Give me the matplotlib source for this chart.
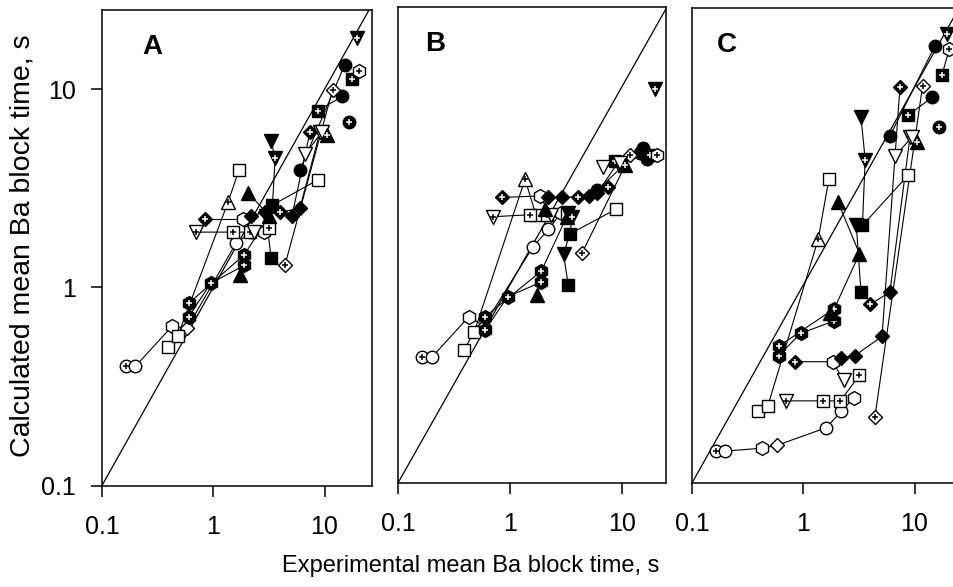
import matplotlib
matplotlib.use("Agg")
import matplotlib.pyplot as plt

plt.rcParams["font.family"] = ["Liberation Sans", "DejaVu Sans"]

# Experimental mean Ba block times (s), one list per connected group of points
exp_time = [
    [0.165, 0.2],
    [0.2, 0.43, 0.58, 1.6],
    [1.6, 2.2, 2.85],
    [0.39, 0.48, 1.36, 1.7],
    [0.7, 1.5, 2.15, 3.2],
    [0.84, 1.84, 2.3],
    [0.6, 0.95, 1.9],
    [0.6, 1.9, 3.2],
    [1.74, 1.9],
    [2.05, 3.2],
    [3.3, 3.6, 3.4, 3.0, 3.3],
    [2.2, 2.9, 5.1, 7.4],
    [4.0, 6.0, 9.1],
    [6.0, 15.2],
    [8.7, 14.5],
    [16.5],
    [19.7],
    [17.6, 20.5],
    [4.4, 11.8],
    [6.7, 9.5],
    [10.5],
    [3.4, 8.8],
]

# Symbol per point: shape (o h s D ^ v), o=open / f=filled, trailing "+" = cross inside
symbols = [
    ["oo+", "oo"],
    ["", "ho", "Do", "oo"],
    ["", "oo", "ho"],
    ["so", "so", "^o+", "so"],
    ["vo+", "so+", "so+", "so+"],
    ["Df+", "ho", "vo"],
    ["hf+", "hf+", "hf+"],
    ["hf+", "hf+", "^f"],
    ["^f", ""],
    ["^f", ""],
    ["vf", "vf+", "sf", "vf", "sf"],
    ["Df", "Df", "Df", "Df+"],
    ["Df+", "Df", "vo+"],
    ["of", "of"],
    ["sf+", "of"],
    ["of+"],
    ["vf+"],
    ["sf+", "ho+"],
    ["Do+", "Do+"],
    ["vo", "vo"],
    ["^f+"],
    ["", "so"],
]

# Calculated mean Ba block times (s) for the three models
calc_A = [
    [0.40, 0.40],
    [0.40, 0.64, 0.62, 1.67],
    [1.67, 1.9, 1.9],
    [0.50, 0.57, 2.7, 3.9],
    [1.9, 1.9, 1.9, 2.0],
    [2.2, 2.2, 1.9],
    [0.71, 1.05, 1.29],
    [0.83, 1.46, 2.3],
    [1.16, 1.29],
    [3.0, 2.3],
    [5.5, 4.5, 2.6, 2.3, 1.41],
    [2.3, 2.4, 2.3, 6.1],
    [2.4, 2.5, 6.1],
    [3.9, 13.3],
    [7.8, 9.2],
    [6.8],
    [18.2],
    [11.2, 12.4],
    [1.29, 9.9],
    [4.7, 6.1],
    [5.9],
    [2.6, 3.5],
]
calc_B = [
    [0.43, 0.43],
    [0.43, 0.69, 0.62, 1.55],
    [1.55, 1.9, 2.3],
    [0.47, 0.58, 3.4, 2.25],
    [2.2, 2.25, 2.25, 2.3],
    [2.75, 2.8, 2.25],
    [0.59, 0.87, 1.03],
    [0.69, 1.17, 2.2],
    [0.89, 1.03],
    [2.4, 2.2],
    [2.3, 2.2, 1.8, 1.42, 1.0],
    [2.75, 2.75, 2.8, 3.1],
    [2.75, 2.9, 4.1],
    [3.0, 4.9],
    [4.2, 4.6],
    [4.3],
    [9.7],
    [4.5, 4.5],
    [1.45, 4.5],
    [3.9, 4.1],
    [4.0],
    [1.8, 2.4],
]
calc_C = [
    [0.145, 0.145],
    [0.145, 0.15, 0.155, 0.19],
    [0.19, 0.23, 0.27],
    [0.23, 0.245, 1.7, 3.43],
    [0.26, 0.26, 0.26, 0.35],
    [0.41, 0.41, 0.33],
    [0.44, 0.57, 0.66],
    [0.49, 0.76, 1.44],
    [0.72, 0.66],
    [2.63, 1.44],
    [7.1, 4.3, 2.0, 2.0, 0.92],
    [0.43, 0.44, 0.55, 10.0],
    [0.8, 0.92, 5.6],
    [5.66, 16.1],
    [7.2, 8.9],
    [6.3],
    [18.5],
    [11.5, 15.5],
    [0.215, 10.1],
    [4.5, 5.6],
    [5.3],
    [2.0, 3.6],
]

panel_labels = ["A", "B", "C"]
tick_values = [0.1, 1, 10]
tick_labels = ["0.1", "1", "10"]

MARKER_SIZE = {"o": 9, "h": 10, "s": 8, "D": 7.5, "^": 9.5, "v": 9.5}


def draw_symbol(ax, x, y, code, z):
    if not code:
        return
    shape, fill = code[0], code[1]
    face = "black" if fill == "f" else "white"
    ax.plot([x], [y], marker=shape, ms=MARKER_SIZE[shape], mfc=face,
            mec="black", mew=1.0, ls="none", zorder=z)
    if code.endswith("+"):
        ax.plot([x], [y], marker="+", ms=5, mew=1.1,
                color="white" if fill == "f" else "black", ls="none", zorder=z + 0.01)


fig = plt.figure(figsize=(9.54, 5.87), dpi=100)

W, H = 954.0, 587.0
# pixel boxes (left, top, right, bottom) of the three panels
boxes = [(102, 10, 372, 485.5), (398, 7, 666, 483), (692, 8, 962, 483)]
xmax = [26.7, 24.6, 26.7]

for i, (calc, box) in enumerate(zip([calc_A, calc_B, calc_C], boxes)):
    l, t, r, b = box
    ax = fig.add_axes([l / W, 1 - b / H, (r - l) / W, (b - t) / H])
    ax.set_xscale("log")
    ax.set_yscale("log")
    ax.set_xlim(0.1, xmax[i])
    ax.set_ylim(0.1, 25.1)

    # identity line
    ax.plot([0.1, 40], [0.1, 40], color="black", lw=0.9, zorder=1)

    for xs, ys in zip(exp_time, calc):
        if len(xs) > 1:
            ax.plot(xs, ys, color="black", lw=0.8, zorder=2)
    z = 3
    for xs, ys, ms in zip(exp_time, calc, symbols):
        for x, y, m in zip(xs, ys, ms):
            draw_symbol(ax, x, y, m, z)
            z += 0.02

    ax.set_xticks(tick_values)
    ax.set_xticklabels(tick_labels)
    ax.minorticks_off()
    ax.tick_params(axis="x", direction="out", length=8, width=1.1,
                   labelsize=18, pad=13)
    if i == 0:
        ax.set_yticks(tick_values)
        ax.set_yticklabels(tick_labels)
        ax.tick_params(axis="y", direction="out", length=8, width=1.1,
                       labelsize=18, pad=11)
    else:
        ax.set_yticks([])
    ax.minorticks_off()
    for s in ax.spines.values():
        s.set_linewidth(1.1)

    lx = [0.185, 0.138, 0.13][i]
    ax.text(lx, 0.922, panel_labels[i], transform=ax.transAxes,
            fontsize=20, fontweight="bold", ha="center", va="center")

fig.text(0.493, 0.036, "Experimental mean Ba block time, s",
         ha="center", va="center", fontsize=17)
fig.text(0.024, 0.581, "Calculated mean Ba block time, s",
         ha="center", va="center", rotation=90, fontsize=20.5)

fig.savefig("out.png", dpi=100)
